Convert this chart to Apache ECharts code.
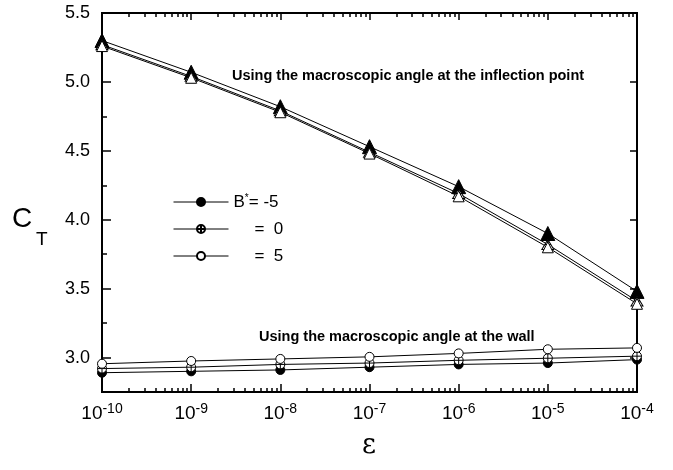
<!DOCTYPE html>
<html>
<head>
<meta charset="utf-8">
<script src="https://cdn.jsdelivr.net/npm/echarts@6/dist/echarts.min.js"></script>
<style>html,body{margin:0;padding:0;background:#fff}#c{width:673px;height:470px}</style>
</head>
<body>
<div id="c"></div>
<script>
// ---- data ----
const epsilon = [1e-10, 1e-9, 1e-8, 1e-7, 1e-6, 1e-5, 1e-4];
// Using the macroscopic angle at the inflection point (triangles)
const inflM5 = [5.30, 5.07, 4.82, 4.53, 4.24, 3.90, 3.48];
const inflP0 = [5.27, 5.04, 4.79, 4.49, 4.19, 3.82, 3.41];
const inflP5 = [5.26, 5.03, 4.78, 4.48, 4.17, 3.80, 3.39];
// Using the macroscopic angle at the wall (circles)
const wallM5 = [2.89, 2.90, 2.91, 2.93, 2.95, 2.96, 2.985];
const wallP0 = [2.92, 2.93, 2.95, 2.96, 2.98, 2.995, 3.01];
const wallP5 = [2.955, 2.975, 2.99, 3.005, 3.03, 3.06, 3.07];
const yMajor = [3.0, 3.5, 4.0, 4.5, 5.0, 5.5];
const yMinor = [2.75, 3.25, 3.75, 4.25, 4.75, 5.25];
const xMajor = [1e-10, 1e-9, 1e-8, 1e-7, 1e-6, 1e-5, 1e-4];
const legendNames = ['B*= -5', '= 0', '= 5'];

const xMinor = [];
for (let d = -10; d < -4; d++) for (let k = 2; k <= 9; k++) xMinor.push(k * Math.pow(10, d));

const crossCircle = 'path://M10,0A10,10,0,1,1,-10,0A10,10,0,1,1,10,0ZM-10,0L10,0M0,-10L0,10';
const crossTri = 'path://M0,-10L10,8L-10,8ZM0,-10L0,8M-5,-1L5,-1';
const pair = (ys) => epsilon.map((x, i) => [x, ys[i]]);

const chart = echarts.init(document.getElementById('c'), null, {renderer: 'canvas'});
const base = {type: 'line', xAxisIndex: 0, yAxisIndex: 0, lineStyle: {color: '#000', width: 1}, animation: false, z: 3};
const black = {color: '#000', borderColor: '#000', borderWidth: 1};
const white = {color: '#fff', borderColor: '#000', borderWidth: 1};
const FONT = 'Arial, Liberation Sans';

const logAxis = (pos, opts) => Object.assign({
  type: 'log', logBase: 10, min: 1e-10, max: 1e-4, position: pos, gridIndex: 0,
  splitLine: {show: false}, axisLine: {show: true, lineStyle: {color: '#000', width: 2}},
  axisLabel: {show: false}, axisTick: {show: false}
}, opts);
const valAxis = (pos, opts) => Object.assign({
  type: 'value', min: 2.75, max: 5.5, position: pos, gridIndex: 0,
  splitLine: {show: false}, axisLine: {show: true, lineStyle: {color: '#000', width: 2}},
  axisLabel: {show: false}, axisTick: {show: false}
}, opts);

chart.setOption({
  animation: false,
  backgroundColor: '#fff',
  grid: {left: 102, right: 36, top: 13, bottom: 78},
  xAxis: [
    logAxis('bottom', {
      axisTick: {show: true, inside: true, length: 8, customValues: xMajor, lineStyle: {color: '#000', width: 1.5}},
      axisLabel: {show: true, margin: 10, customValues: xMajor,
        formatter: (v) => '{b|10}{s|' + Math.round(Math.log10(v)) + '}',
        rich: {b: {fontFamily: FONT, fontSize: 19, color: '#000'},
               s: {fontFamily: FONT, fontSize: 14, color: '#000', padding: [0, 0, 9, 0]}}}
    }),
    logAxis('bottom', {axisTick: {show: true, inside: true, length: 4, customValues: xMinor, lineStyle: {color: '#000', width: 1.5}}}),
    logAxis('top', {axisTick: {show: true, inside: true, length: 7, customValues: xMajor, lineStyle: {color: '#000', width: 1.5}}}),
    logAxis('top', {axisTick: {show: true, inside: true, length: 4, customValues: xMinor, lineStyle: {color: '#000', width: 1.5}}})
  ],
  yAxis: [
    valAxis('left', {
      axisTick: {show: true, inside: true, length: 9, customValues: yMajor, lineStyle: {color: '#000', width: 1.5}},
      axisLabel: {show: true, margin: 12, customValues: yMajor, formatter: (v) => v.toFixed(1),
        fontFamily: FONT, fontSize: 18, color: '#000'}
    }),
    valAxis('left', {axisTick: {show: true, inside: true, length: 5, customValues: yMinor, lineStyle: {color: '#000', width: 1.5}}}),
    valAxis('right', {axisTick: {show: true, inside: true, length: 7, customValues: yMajor, lineStyle: {color: '#000', width: 1.5}}})
  ],
  legend: {
    show: true, orient: 'vertical', left: 173, top: 193, padding: 0,
    itemWidth: 55, itemHeight: 10, itemGap: 10,
    data: legendNames,
    lineStyle: {width: 1},
    formatter: (n) => n === legendNames[0]
      ? '{a|B}{s|*}{a|= -5}'
      : (n === legendNames[1] ? '{p|}{a|=  0}' : '{p|}{a|=  5}'),
    textStyle: {color: '#000', rich: {
      a: {fontFamily: FONT, fontSize: 17, color: '#000'},
      s: {fontFamily: FONT, fontSize: 10, color: '#000', padding: [0, 0, 8, 0]},
      p: {width: 21}
    }}
  },
  series: [
    Object.assign({}, base, {name: 'infl-5', data: pair(inflM5), symbol: 'triangle', symbolSize: 14, itemStyle: black}),
    Object.assign({}, base, {name: 'infl0', data: pair(inflP0), symbol: crossTri, symbolSize: [12, 11], symbolKeepAspect: true, itemStyle: white}),
    Object.assign({}, base, {name: 'infl5', data: pair(inflP5), symbol: 'triangle', symbolSize: 11, itemStyle: white}),
    Object.assign({}, base, {name: legendNames[0], data: pair(wallM5), symbol: 'circle', symbolSize: 9, itemStyle: black}),
    Object.assign({}, base, {name: legendNames[1], data: pair(wallP0), symbol: crossCircle, symbolSize: 9, symbolKeepAspect: true, itemStyle: white}),
    Object.assign({}, base, {name: legendNames[2], data: pair(wallP5), symbol: 'circle', symbolSize: 9, itemStyle: white})
  ],
  graphic: [
    {type: 'text', left: 232, top: 68, style: {text: 'Using the macroscopic angle at the inflection point', fontFamily: FONT, fontWeight: 'bold', fontSize: 14.5, fill: '#000'}},
    {type: 'text', left: 259, top: 329, style: {text: 'Using the macroscopic angle at the wall', fontFamily: FONT, fontWeight: 'bold', fontSize: 14.5, fill: '#000'}},
    {type: 'text', left: 12, top: 205, style: {text: 'C', fontFamily: FONT, fontSize: 28, fill: '#000'}},
    {type: 'text', left: 36, top: 230, style: {text: 'T', fontFamily: FONT, fontSize: 19, fill: '#000'}},
    {type: 'text', left: 362, top: 432, style: {text: 'ε', fontFamily: 'DejaVu Serif, Liberation Serif, serif', fontSize: 27, fill: '#000'}}
  ]
});
</script>
</body>
</html>
